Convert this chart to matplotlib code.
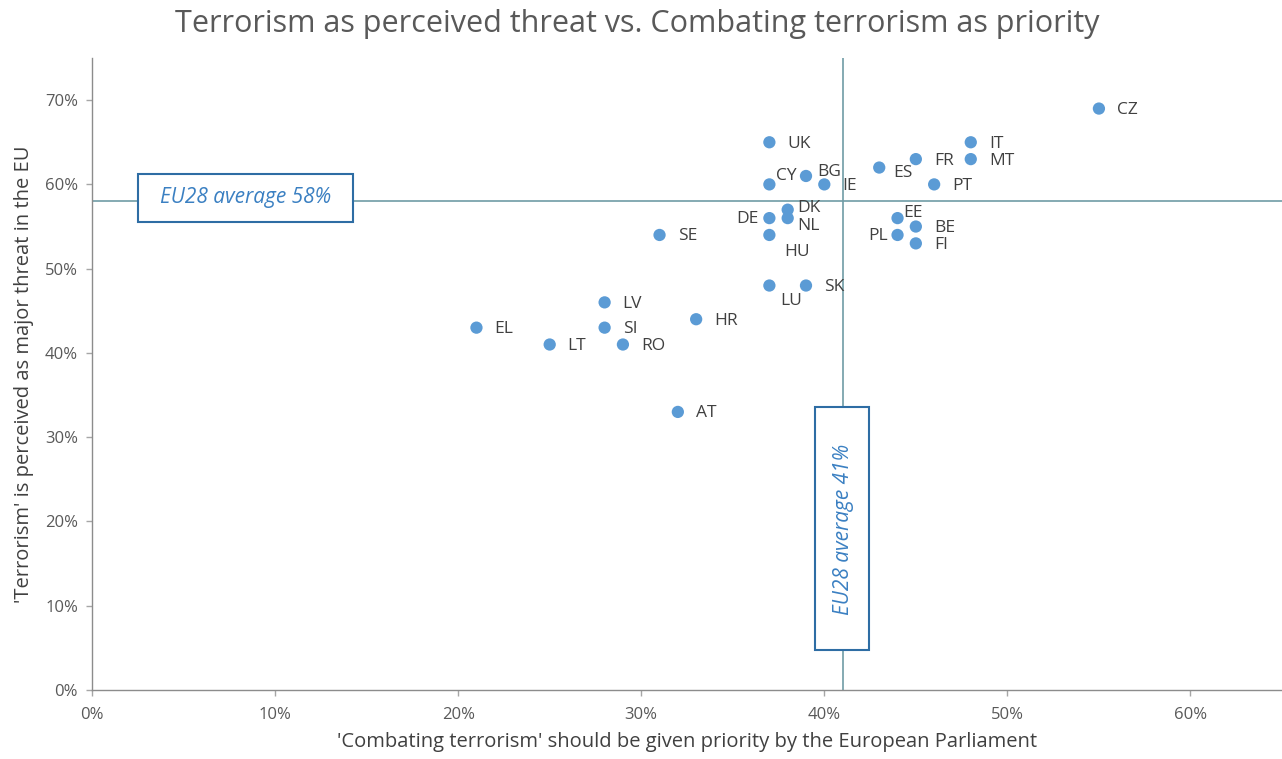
import matplotlib
matplotlib.use("Agg")
import matplotlib.pyplot as plt
from matplotlib.patches import Rectangle
from matplotlib.ticker import FuncFormatter

plt.rcParams['font.family'] = ['Open Sans', 'DejaVu Sans']

countries = ['UK', 'CY', 'BG', 'IE', 'DE', 'DK', 'NL', 'HU', 'SE', 'LU', 'SK',
             'LV', 'EL', 'SI', 'HR', 'LT', 'RO', 'AT', 'ES', 'FR', 'IT', 'MT',
             'PT', 'EE', 'BE', 'PL', 'FI', 'CZ']
priority = [37, 37, 39, 40, 37, 38, 38, 37, 31, 37, 39,
            28, 21, 28, 33, 25, 29, 32, 43, 45, 48, 48,
            46, 44, 45, 44, 45, 55]
threat = [65, 60, 61, 60, 56, 57, 56, 54, 54, 48, 48,
          46, 43, 43, 44, 41, 41, 33, 62, 63, 65, 63,
          60, 56, 55, 54, 53, 69]
avg_priority = 41
avg_threat = 58

# label offsets in points (dx, dy, ha)
offsets = {
    'CY': (5, 6, 'left'), 'BG': (8, 3, 'left'), 'DE': (-8, -1, 'right'),
    'NL': (7, -6, 'left'), 'HU': (11, -12, 'left'), 'LU': (8, -11, 'left'),
    'ES': (10, -4, 'left'), 'EE': (4, 4, 'left'), 'PL': (-7, -1, 'right'),
    'DK': (7, 1, 'left'),
}

fig = plt.figure(figsize=(12.82, 7.59), dpi=100)
ax = fig.add_axes([92/1282, 1-690/759, 1-92/1282, (690-58)/759])

line_col = '#6F9CA6'
ax.axvline(avg_priority, color=line_col, lw=1.2, zorder=1)
ax.axhline(avg_threat, color=line_col, lw=1.2, zorder=1)

ax.scatter(priority, threat, s=78, color='#5B9BD5', zorder=3, edgecolors='none')
for c, x, y in zip(countries, priority, threat):
    dx, dy, ha = offsets.get(c, (13, -1, 'left'))
    ax.annotate(c, (x, y), xytext=(dx, dy), textcoords='offset points',
                ha=ha, va='center', fontsize=12.5, color='#404040', zorder=4)

box_edge = '#2E6DA4'
box_text = '#3B80C2'
ax.add_patch(Rectangle((2.5, 55.53), 14.26-2.5, 61.24-55.53, facecolor='white',
                       edgecolor=box_edge, lw=1.5, zorder=2))
ax.text((2.5+14.26)/2, 58.4, 'EU28 average 58%', ha='center', va='center',
        fontsize=15, style='italic', color=box_text, zorder=3)
ax.add_patch(Rectangle((39.5, 4.76), 42.46-39.5, 33.53-4.76, facecolor='white',
                       edgecolor=box_edge, lw=1.5, zorder=2))
ax.text(41.05, 19.1, 'EU28 average 41%', ha='center', va='center', rotation=90,
        fontsize=15, style='italic', color=box_text, zorder=3)

ax.set_xlim(0, 65)
ax.set_ylim(0, 75)
ax.set_xticks([0, 10, 20, 30, 40, 50, 60])
ax.set_yticks([0, 10, 20, 30, 40, 50, 60, 70])
fmt = FuncFormatter(lambda v, p: f'{int(v)}%')
ax.xaxis.set_major_formatter(fmt)
ax.yaxis.set_major_formatter(fmt)
ax.tick_params(colors='#A6A6A6', labelcolor='#595959', labelsize=12, length=4, width=1)
ax.tick_params(axis='x', pad=8)
ax.tick_params(axis='y', pad=6)

for s in ['top', 'right']:
    ax.spines[s].set_visible(False)
for s in ['left', 'bottom']:
    ax.spines[s].set_color('#8C8C8C')
    ax.spines[s].set_linewidth(1)

ax.set_xlabel("'Combating terrorism' should be given priority by the European Parliament",
              fontsize=14.5, color='#404040', labelpad=7)
ax.set_ylabel("'Terrorism' is perceived as major threat in the EU",
              fontsize=14.5, color='#404040', labelpad=8)

fig.suptitle('Terrorism as perceived threat vs. Combating terrorism as priority',
             x=637/1282, y=1-24/759, va='center', fontsize=22, color='#595959')

fig.savefig('out.png', dpi=100, facecolor='white')
